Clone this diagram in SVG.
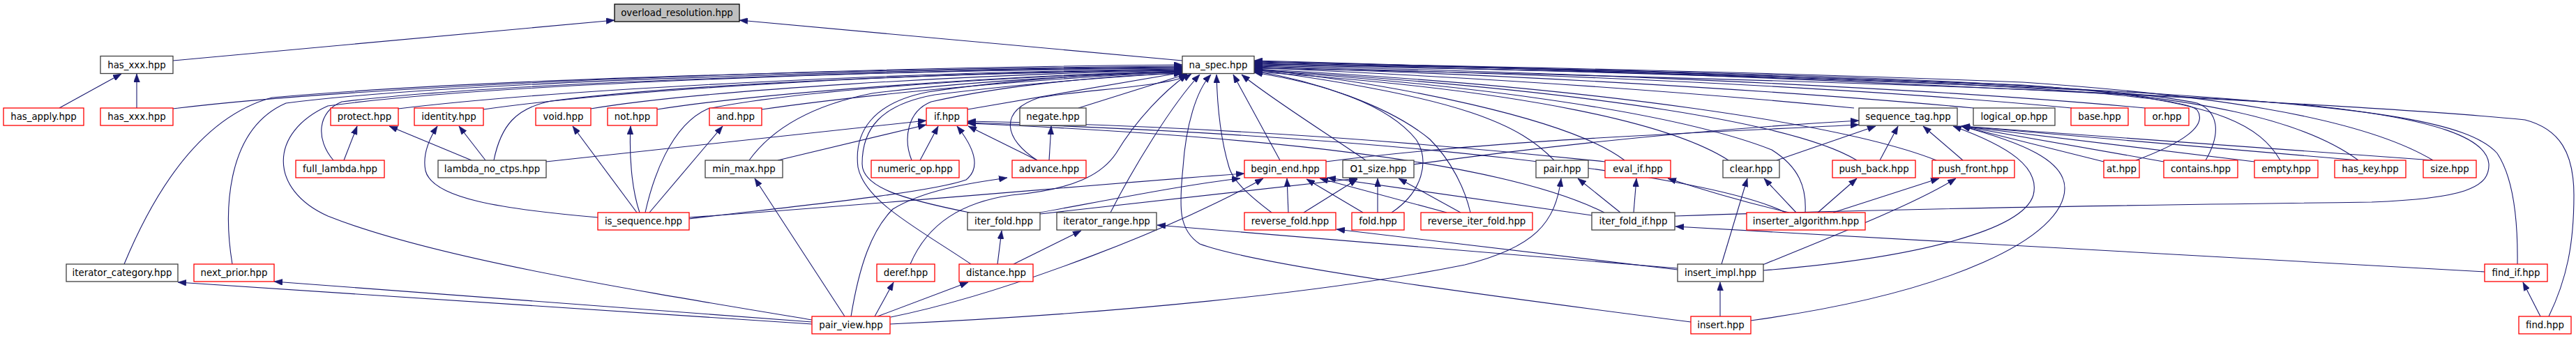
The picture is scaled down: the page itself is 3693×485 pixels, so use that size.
<svg xmlns="http://www.w3.org/2000/svg" width="3693" height="485" viewBox="0 0 3693 485">
<style>
.node rect{fill:#ffffff;stroke:#404040;stroke-width:1.3}
.node.red rect{stroke:#ff0000}
.node.main rect{fill:#bfbfbf;stroke:#000000}
.node text{font-family:"DejaVu Sans","Liberation Sans",sans-serif;font-size:13.33px;text-anchor:middle;fill:#000000}
#edges path{fill:none;stroke:#191970;stroke-width:1.1;marker-end:url(#arr)}
</style>
<defs>
<marker id="arr" viewBox="0 0 12 9" refX="12" refY="4.5" markerWidth="12" markerHeight="9" markerUnits="userSpaceOnUse" orient="auto">
<path d="M0,0 L12,4.5 L0,9 z" fill="#191970" stroke="#191970" stroke-width="0.5"/>
</marker>
</defs>
<rect width="3693" height="485" fill="#ffffff"/>
<g id="edges">
<path d="M248,87 L881,29"/>
<path d="M1695,87 L1060,29"/>
<path d="M85,155 L174,106"/>
<path d="M196,155 L196,106"/>
<path d="M248,156 C520,122 1200,97 1695,93"/>
<path d="M178,379 C215,290 280,170 390,140 C700,112 1300,98 1695,95"/>
<path d="M333,379 C320,300 325,185 410,148 C660,116 1300,99 1695,96"/>
<path d="M1164,459 C900,415 620,370 470,310 C385,272 385,190 470,152 C700,120 1300,100 1695,97"/>
<path d="M478,230 C452,200 455,160 490,146 C720,118 1300,100 1695,98"/>
<path d="M493,230 L512,181"/>
<path d="M571,156 C800,128 1300,103 1695,99"/>
<path d="M676,230 L558,181"/>
<path d="M693,157 C900,128 1300,104 1695,100"/>
<path d="M696,230 L658,181"/>
<path d="M857,312 C720,300 620,285 610,245 C605,220 618,195 627,181"/>
<path d="M708,230 C718,180 740,155 790,145 C1000,118 1400,104 1695,101"/>
<path d="M847,156 C1000,130 1400,106 1695,101"/>
<path d="M913,305 L821,181"/>
<path d="M942,157 C1100,132 1450,108 1695,102"/>
<path d="M917,305 C905,270 902,220 904,181"/>
<path d="M925,305 C935,260 960,180 1015,156 C1150,128 1450,110 1695,102"/>
<path d="M1092,157 C1250,134 1500,112 1695,103"/>
<path d="M931,305 L1036,181"/>
<path d="M1074,230 C1110,180 1170,150 1250,134 C1400,115 1600,106 1695,104"/>
<path d="M1211,454 L1082,256"/>
<path d="M783,232 L1328,173"/>
<path d="M1115,230 L1328,179"/>
<path d="M1387,157 L1695,104"/>
<path d="M1546,155 L1702,106"/>
<path d="M1319,230 L1345,181"/>
<path d="M1307,230 C1295,200 1300,160 1335,146 C1450,120 1600,108 1695,105"/>
<path d="M988,314 C1100,300 1330,278 1385,258 C1408,240 1395,210 1372,181"/>
<path d="M1487,230 L1388,181"/>
<path d="M1504,230 L1507,181"/>
<path d="M1487,230 C1440,200 1430,160 1490,140 C1560,128 1680,124 1708,106"/>
<path d="M1220,454 C1232,380 1250,330 1280,300 C1330,270 1400,262 1444,255"/>
<path d="M988,312 C1300,290 1600,262 1784,249"/>
<path d="M1491,305 C1600,285 1700,265 1778,256"/>
<path d="M1491,307 L1946,256"/>
<path d="M1390,305 C1290,285 1236,268 1236,235 C1236,185 1262,150 1340,136 C1450,122 1600,109 1695,105"/>
<path d="M1392,379 C1320,330 1240,290 1230,240 C1224,190 1250,148 1330,132 C1450,114 1600,104 1695,103"/>
<path d="M1430,379 L1436,331"/>
<path d="M1453,379 L1550,331"/>
<path d="M1592,305 C1625,240 1680,150 1720,107"/>
<path d="M1305,379 C1330,320 1380,290 1450,280 C1540,272 1580,250 1600,220 C1630,170 1670,130 1702,107"/>
<path d="M1254,454 L1281,405"/>
<path d="M1258,454 L1388,405"/>
<path d="M1277,455 C1450,420 1700,320 1811,256"/>
<path d="M1276,465 C1600,450 1900,420 2100,380 C2200,355 2230,320 2238,256"/>
<path d="M1164,462 L393,404"/>
<path d="M1164,465 L255,405"/>
<path d="M2424,462 C2100,420 1800,380 1720,350 C1690,330 1690,300 1696,240 C1700,180 1715,130 1736,107"/>
<path d="M2405,385 L1659,323"/>
<path d="M1823,305 C1790,280 1768,260 1762,240 C1750,200 1745,150 1744,107"/>
<path d="M1835,230 L1768,107"/>
<path d="M1847,305 L1845,256"/>
<path d="M1869,305 L1946,257"/>
<path d="M1954,305 L1873,257"/>
<path d="M1975,305 L1975,256"/>
<path d="M1995,305 C2040,275 2050,230 2030,200 C1990,150 1900,120 1798,104"/>
<path d="M2074,305 L1892,256"/>
<path d="M2094,305 L2005,256"/>
<path d="M2108,305 C2100,270 2080,230 2050,200 C1990,150 1880,115 1798,102"/>
<path d="M1958,230 C1900,190 1820,140 1780,107"/>
<path d="M2026,236 C2250,205 2450,185 2665,173"/>
<path d="M1901,232 C2150,200 2450,190 2665,179"/>
<path d="M2228,230 C2180,180 2100,140 1798,100"/>
<path d="M2329,230 C2250,170 2000,120 1798,99"/>
<path d="M2301,232 C2000,200 1700,180 1387,174"/>
<path d="M2300,305 C2150,230 1800,195 1387,177"/>
<path d="M2282,309 L1903,255"/>
<path d="M2323,305 L2262,256"/>
<path d="M2342,305 L2346,256"/>
<path d="M2401,310 C2700,300 3000,295 3400,290 C3530,285 3570,270 3568,235 C3565,200 3500,170 3300,150 C3000,125 2200,105 1798,98"/>
<path d="M3562,390 L2402,325"/>
<path d="M2565,305 C2500,290 2440,272 2391,256"/>
<path d="M2560,305 C2450,250 2000,195 1387,176"/>
<path d="M2575,305 L2529,256"/>
<path d="M2606,305 L2662,256"/>
<path d="M2628,305 L2780,256"/>
<path d="M2588,305 C2590,270 2580,240 2540,215 C2400,160 2100,120 1798,101"/>
<path d="M2478,230 C2400,180 2200,130 1798,103"/>
<path d="M2547,230 L2689,181"/>
<path d="M2662,230 C2580,180 2300,130 1798,100"/>
<path d="M2695,230 L2721,181"/>
<path d="M2776,230 C2650,180 2300,125 1798,99"/>
<path d="M2814,230 L2757,181"/>
<path d="M2468,379 L2505,256"/>
<path d="M2527,380 C2650,330 2750,290 2804,256"/>
<path d="M2405,387 L1916,329"/>
<path d="M2528,388 C2750,370 2900,330 2915,280 C2925,240 2880,210 2800,181"/>
<path d="M2466,454 L2466,405"/>
<path d="M2510,460 C2800,420 2960,340 2960,270 C2960,230 2900,205 2812,181"/>
<path d="M2658,155 C2400,130 2100,110 1798,97"/>
<path d="M2829,155 C2500,125 2100,105 1798,96"/>
<path d="M2970,155 C2600,120 2100,103 1798,95"/>
<path d="M3075,155 C2700,120 2100,100 1798,94"/>
<path d="M3062,230 C3130,205 3165,180 3150,158 C3120,125 2500,105 1798,93"/>
<path d="M3016,232 L2812,181"/>
<path d="M3162,230 C3185,190 3180,160 3150,148 C3000,115 2400,100 1798,92"/>
<path d="M3102,232 L2812,181"/>
<path d="M3269,230 C3240,180 3180,150 3000,130 C2600,110 2100,98 1798,91"/>
<path d="M3232,232 L2812,181"/>
<path d="M3381,230 C3300,170 3150,140 2900,122 C2500,106 2100,96 1798,90"/>
<path d="M3381,230 L2812,181"/>
<path d="M3488,230 C3380,165 3150,135 2900,118 C2500,102 2100,95 1798,89"/>
<path d="M3488,230 L2812,181"/>
<path d="M3609,379 C3610,300 3600,250 3580,220 C3540,175 3400,155 3100,135 C2700,110 2200,98 1798,88"/>
<path d="M3642,454 L3617,405"/>
<path d="M3654,454 C3680,400 3690,350 3690,280 C3690,220 3670,185 3620,172 C3400,150 2500,105 1798,87"/>
</g>
<g id="overload_resolution" class="node main"><rect x="881" y="6" width="179" height="25"/><text x="970.5" y="23">overload_resolution.hpp</text></g>
<g id="has_xxx_1" class="node"><rect x="144" y="80.5" width="104" height="25"/><text x="196" y="97.5">has_xxx.hpp</text></g>
<g id="na_spec" class="node"><rect x="1695" y="80.5" width="103" height="25"/><text x="1746.5" y="97.5">na_spec.hpp</text></g>
<g id="has_apply" class="node red"><rect x="5" y="155" width="115" height="25"/><text x="62.5" y="172">has_apply.hpp</text></g>
<g id="has_xxx_2" class="node red"><rect x="144" y="155" width="104" height="25"/><text x="196" y="172">has_xxx.hpp</text></g>
<g id="protect" class="node red"><rect x="474" y="155" width="97" height="25"/><text x="522.5" y="172">protect.hpp</text></g>
<g id="identity" class="node red"><rect x="594" y="155" width="99" height="25"/><text x="643.5" y="172">identity.hpp</text></g>
<g id="void" class="node red"><rect x="768" y="155" width="79" height="25"/><text x="807.5" y="172">void.hpp</text></g>
<g id="not" class="node red"><rect x="871" y="155" width="71" height="25"/><text x="906.5" y="172">not.hpp</text></g>
<g id="and" class="node red"><rect x="1017" y="155" width="75" height="25"/><text x="1054.5" y="172">and.hpp</text></g>
<g id="if" class="node red"><rect x="1328" y="155" width="59" height="25"/><text x="1357.5" y="172">if.hpp</text></g>
<g id="negate" class="node"><rect x="1462" y="155" width="95" height="25"/><text x="1509.5" y="172">negate.hpp</text></g>
<g id="sequence_tag" class="node"><rect x="2665" y="155" width="141" height="25"/><text x="2735.5" y="172">sequence_tag.hpp</text></g>
<g id="logical_op" class="node"><rect x="2829" y="155" width="117" height="25"/><text x="2887.5" y="172">logical_op.hpp</text></g>
<g id="base" class="node red"><rect x="2969" y="155" width="82" height="25"/><text x="3010" y="172">base.hpp</text></g>
<g id="or" class="node red"><rect x="3075" y="155" width="63" height="25"/><text x="3106.5" y="172">or.hpp</text></g>
<g id="full_lambda" class="node red"><rect x="424" y="230" width="127" height="25"/><text x="487.5" y="247">full_lambda.hpp</text></g>
<g id="lambda_no_ctps" class="node"><rect x="628" y="230" width="155" height="25"/><text x="705.5" y="247">lambda_no_ctps.hpp</text></g>
<g id="min_max" class="node"><rect x="1011" y="230" width="111" height="25"/><text x="1066.5" y="247">min_max.hpp</text></g>
<g id="numeric_op" class="node red"><rect x="1249" y="230" width="126" height="25"/><text x="1312" y="247">numeric_op.hpp</text></g>
<g id="advance" class="node red"><rect x="1451" y="230" width="106" height="25"/><text x="1504" y="247">advance.hpp</text></g>
<g id="begin_end" class="node red"><rect x="1784" y="230" width="117" height="25"/><text x="1842.5" y="247">begin_end.hpp</text></g>
<g id="O1_size" class="node"><rect x="1925" y="230" width="102" height="25"/><text x="1976" y="247">O1_size.hpp</text></g>
<g id="pair" class="node"><rect x="2202" y="230" width="75" height="25"/><text x="2239.5" y="247">pair.hpp</text></g>
<g id="eval_if" class="node red"><rect x="2301" y="230" width="94" height="25"/><text x="2348" y="247">eval_if.hpp</text></g>
<g id="clear" class="node"><rect x="2470" y="230" width="81" height="25"/><text x="2510.5" y="247">clear.hpp</text></g>
<g id="push_back" class="node red"><rect x="2627" y="230" width="119" height="25"/><text x="2686.5" y="247">push_back.hpp</text></g>
<g id="push_front" class="node red"><rect x="2770" y="230" width="118" height="25"/><text x="2829" y="247">push_front.hpp</text></g>
<g id="at" class="node red"><rect x="3016" y="230" width="51" height="25"/><text x="3041.5" y="247">at.hpp</text></g>
<g id="contains" class="node red"><rect x="3102" y="230" width="106" height="25"/><text x="3155" y="247">contains.hpp</text></g>
<g id="empty" class="node red"><rect x="3232" y="230" width="91" height="25"/><text x="3277.5" y="247">empty.hpp</text></g>
<g id="has_key" class="node red"><rect x="3347" y="230" width="102" height="25"/><text x="3398" y="247">has_key.hpp</text></g>
<g id="size" class="node red"><rect x="3474" y="230" width="76" height="25"/><text x="3512" y="247">size.hpp</text></g>
<g id="is_sequence" class="node red"><rect x="857" y="305" width="131" height="25"/><text x="922.5" y="322">is_sequence.hpp</text></g>
<g id="iter_fold" class="node"><rect x="1387" y="305" width="104" height="25"/><text x="1439" y="322">iter_fold.hpp</text></g>
<g id="iterator_range" class="node"><rect x="1515" y="305" width="143" height="25"/><text x="1586.5" y="322">iterator_range.hpp</text></g>
<g id="reverse_fold" class="node red"><rect x="1784" y="305" width="131" height="25"/><text x="1849.5" y="322">reverse_fold.hpp</text></g>
<g id="fold" class="node red"><rect x="1938" y="305" width="75" height="25"/><text x="1975.5" y="322">fold.hpp</text></g>
<g id="reverse_iter_fold" class="node red"><rect x="2037" y="305" width="160" height="25"/><text x="2117" y="322">reverse_iter_fold.hpp</text></g>
<g id="iter_fold_if" class="node"><rect x="2282" y="305" width="119" height="25"/><text x="2341.5" y="322">iter_fold_if.hpp</text></g>
<g id="inserter_algorithm" class="node red"><rect x="2504" y="305" width="170" height="25"/><text x="2589" y="322">inserter_algorithm.hpp</text></g>
<g id="iterator_category" class="node"><rect x="95" y="379" width="160" height="25"/><text x="175" y="396">iterator_category.hpp</text></g>
<g id="next_prior" class="node red"><rect x="278" y="379" width="115" height="25"/><text x="335.5" y="396">next_prior.hpp</text></g>
<g id="deref" class="node red"><rect x="1257" y="379" width="83" height="25"/><text x="1298.5" y="396">deref.hpp</text></g>
<g id="distance" class="node red"><rect x="1375" y="379" width="106" height="25"/><text x="1428" y="396">distance.hpp</text></g>
<g id="insert_impl" class="node"><rect x="2405" y="379" width="123" height="25"/><text x="2466.5" y="396">insert_impl.hpp</text></g>
<g id="find_if" class="node red"><rect x="3562" y="379" width="90" height="25"/><text x="3607" y="396">find_if.hpp</text></g>
<g id="pair_view" class="node red"><rect x="1164" y="454" width="112" height="25"/><text x="1220" y="471">pair_view.hpp</text></g>
<g id="insert" class="node red"><rect x="2424" y="454" width="86" height="25"/><text x="2467" y="471">insert.hpp</text></g>
<g id="find" class="node red"><rect x="3611" y="454" width="75" height="25"/><text x="3648.5" y="471">find.hpp</text></g>
</svg>
